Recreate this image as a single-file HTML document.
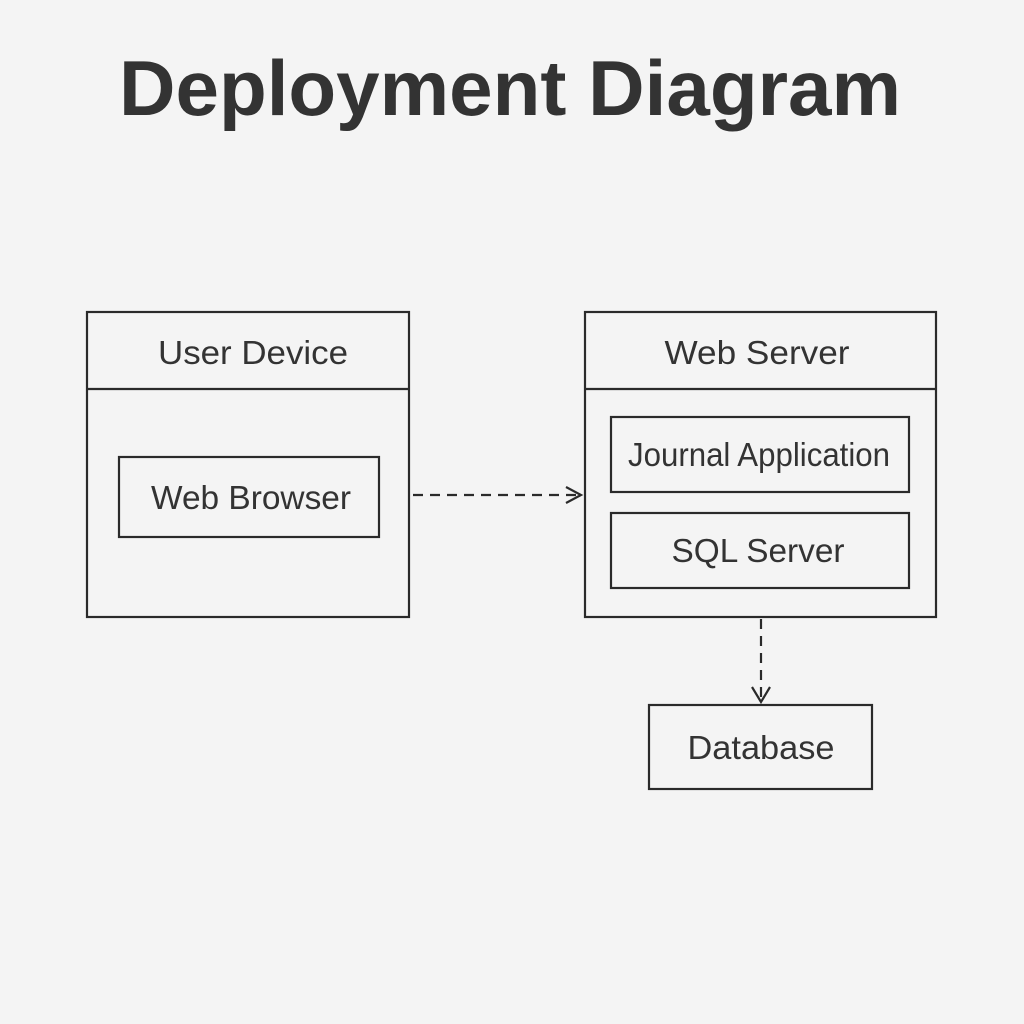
<!DOCTYPE html>
<html><head><style>
html,body{margin:0;padding:0;background:#f4f4f4;}
</style></head><body>
<svg width="1024" height="1024" xmlns="http://www.w3.org/2000/svg" style="display:block">
<rect width="1024" height="1024" fill="#f4f4f4"/>
<g font-family="Liberation Sans, sans-serif" fill="#333">
<text x="510" y="115" font-size="78" font-weight="bold" text-anchor="middle" textLength="782" lengthAdjust="spacingAndGlyphs">Deployment Diagram</text>
</g>
<g fill="none" stroke="#2a2a2a" stroke-width="2.2">
<rect x="87" y="312" width="322" height="305"/>
<line x1="87" y1="389" x2="409" y2="389"/>
<rect x="119" y="457" width="260" height="80"/>
<rect x="585" y="312" width="351" height="305"/>
<line x1="585" y1="389" x2="936" y2="389"/>
<rect x="611" y="417" width="298" height="75"/>
<rect x="611" y="513" width="298" height="75"/>
<rect x="649" y="705" width="223" height="84"/>
<line x1="413" y1="495" x2="580" y2="495" stroke-dasharray="10,7"/>
<polyline points="566,487 581,495 566,503"/>
<line x1="761" y1="619" x2="761" y2="701" stroke-dasharray="10,7"/>
<polyline points="752,687 761,702 770,687"/>
</g>
<g font-family="Liberation Sans, sans-serif" fill="#333" font-size="33" text-anchor="middle" lengthAdjust="spacingAndGlyphs">
<text x="253" y="364" textLength="190" lengthAdjust="spacingAndGlyphs">User Device</text>
<text x="251" y="509" textLength="200" lengthAdjust="spacingAndGlyphs">Web Browser</text>
<text x="757" y="364" textLength="185" lengthAdjust="spacingAndGlyphs">Web Server</text>
<text x="759" y="466" textLength="262" lengthAdjust="spacingAndGlyphs">Journal Application</text>
<text x="758" y="562" textLength="173" lengthAdjust="spacingAndGlyphs">SQL Server</text>
<text x="761" y="759" textLength="147" lengthAdjust="spacingAndGlyphs">Database</text>
</g>
</svg>
</body></html>
